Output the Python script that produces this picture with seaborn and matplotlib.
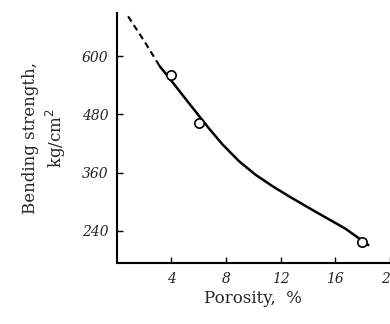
import matplotlib
matplotlib.use("Agg")
import matplotlib.pyplot as plt
import seaborn as sns
import pandas as pd

# measured points
porosity = [4.0, 6.06, 17.93]
strength = [562, 463, 216]

# fitted curve: dashed (extrapolated) part and solid part
curve_dash_x = [0.84, 2.06, 3.15]
curve_dash_y = [683, 630, 580]
curve_solid_x = [3.15, 3.75, 5.33, 6.06, 6.79, 7.75, 8.97, 10.18, 11.39,
                 12.60, 14.30, 16.73, 18.42]
curve_solid_y = [580, 559, 502, 476, 450, 418, 383, 355, 332,
                 311, 283, 244, 210]

xticks = [4, 8, 12, 16, 20]
yticks = [240, 360, 480, 600]

sns.set_theme(style="ticks")
plt.rcParams['font.family'] = ['DejaVu Serif', 'DejaVu Sans']

fig = plt.figure(figsize=(3.9, 3.24), dpi=100)
ax = fig.add_axes([0.299, 0.187, 0.701, 0.773])

pts = pd.DataFrame({"x": porosity, "y": strength})
dash = pd.DataFrame({"x": curve_dash_x, "y": curve_dash_y})
solid = pd.DataFrame({"x": curve_solid_x, "y": curve_solid_y})

sns.lineplot(data=dash, x="x", y="y", ax=ax, color="black", lw=1.5,
             linestyle=(0, (3, 2)), sort=False)
sns.lineplot(data=solid, x="x", y="y", ax=ax, color="black", lw=1.8, sort=False)
sns.scatterplot(data=pts, x="x", y="y", ax=ax, s=45, facecolor="white",
                edgecolor="black", linewidth=1.2, zorder=5)

ax.set_xlim(0, 20)
ax.set_ylim(172, 690)
ax.set_xticks(xticks)
ax.set_yticks(yticks)
ax.set_xticklabels([str(t) for t in xticks], fontstyle="italic", fontsize=10)
ax.set_yticklabels([str(t) for t in yticks], fontstyle="italic", fontsize=10)
ax.tick_params(direction="in", length=4, width=1, color="black", pad=6)
for s in ["top", "right"]:
    ax.spines[s].set_visible(False)
for s in ["left", "bottom"]:
    ax.spines[s].set_linewidth(1.5)
    ax.spines[s].set_color("black")

ax.set_xlabel("Porosity,  %", fontsize=12, labelpad=3)
ax.set_ylabel("Bending strength,\nkg/cm$^2$", fontsize=12, labelpad=10,
              linespacing=1.25)

fig.savefig("out.png", dpi=100)
